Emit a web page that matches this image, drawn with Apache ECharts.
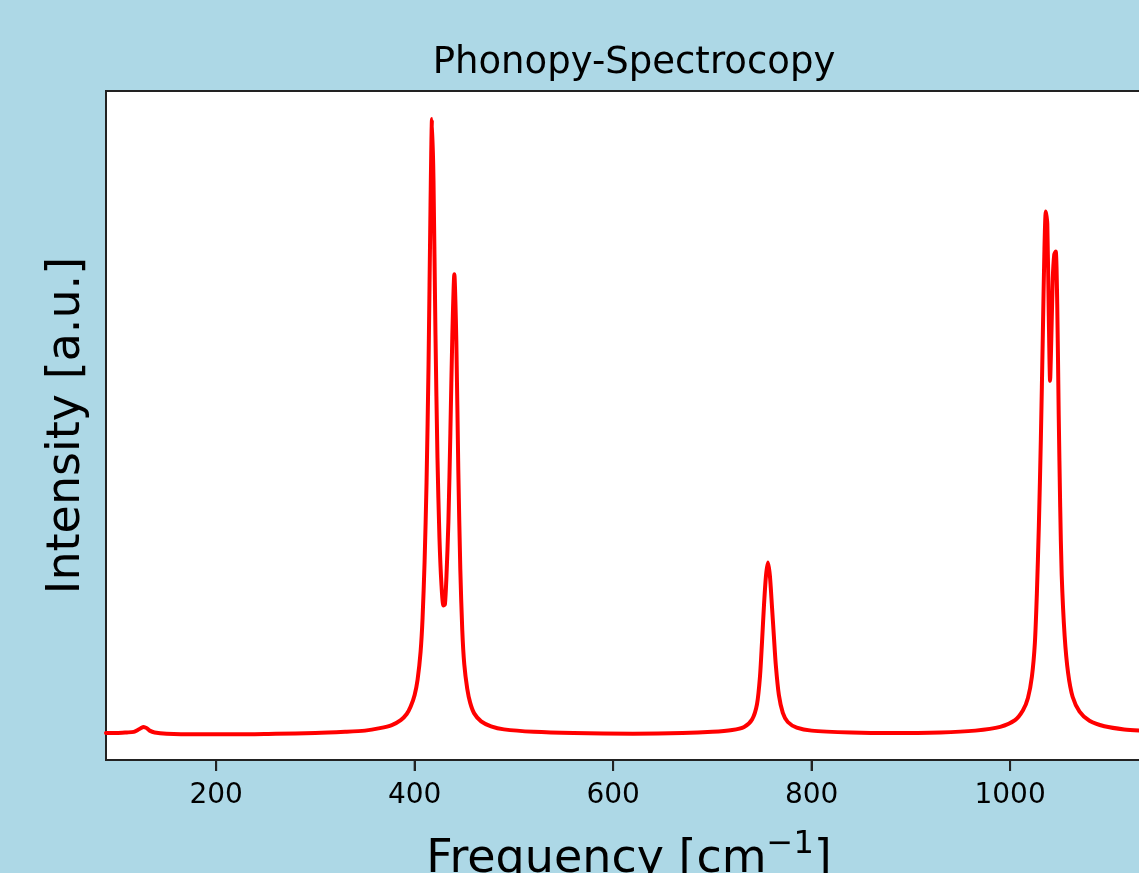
<!DOCTYPE html>
<html>
<head>
<meta charset="utf-8">
<title>Phonopy-Spectrocopy</title>
<script src="https://cdn.jsdelivr.net/npm/echarts@6/dist/echarts.min.js"></script>
<style>
    html, body { margin: 0; padding: 0; background: #add8e6; }
    #spectrum { width: 1139px; height: 873px; }
</style>
</head>
<body>
<div id="spectrum"></div>
<script>
// frequency (cm-1)
let freq = [
    89, 100, 110, 117, 121, 124, 127, 130, 133, 138, 150, 180, 220, 260, 300, 330, 350, 365, 377, 386,
    392, 396, 400, 403, 406, 408, 410, 412, 414, 416, 417.5, 419, 421, 423, 425, 427, 429, 430.5, 432, 434,
    436, 438, 440, 442, 444, 446, 448, 450, 453, 456, 460, 467, 477, 490, 520, 560, 620, 670, 700, 720,
    732, 740, 745, 748, 750, 752, 754, 756, 758, 760, 762, 764, 767, 771, 776, 785, 800, 840, 880, 930,
    965, 990, 1005, 1013, 1018, 1022, 1025, 1027, 1029, 1031, 1033, 1034.5, 1036, 1037.5, 1039, 1040.3, 1041.5, 1043, 1044.5, 1046,
    1047.5, 1049, 1050.5, 1052, 1055, 1058.5, 1063, 1070, 1080, 1095, 1115, 1143
]
// intensity (a.u.)
let intensity = [
    0.003, 0.003, 0.004, 0.005, 0.008, 0.011, 0.013, 0.011, 0.007, 0.004, 0.002, 0.001, 0.001, 0.002, 0.003, 0.005, 0.007, 0.011, 0.016, 0.024,
    0.034, 0.046, 0.065, 0.090, 0.135, 0.190, 0.280, 0.410, 0.600, 0.860, 1.000, 0.900, 0.650, 0.450, 0.320, 0.245, 0.210, 0.212, 0.255, 0.345,
    0.490, 0.650, 0.748, 0.640, 0.430, 0.270, 0.170, 0.115, 0.075, 0.052, 0.035, 0.022, 0.014, 0.009, 0.005, 0.003, 0.002, 0.003, 0.005, 0.008,
    0.013, 0.025, 0.050, 0.095, 0.150, 0.210, 0.258, 0.280, 0.258, 0.210, 0.160, 0.112, 0.065, 0.036, 0.021, 0.012, 0.007, 0.004, 0.003, 0.004,
    0.007, 0.013, 0.024, 0.040, 0.060, 0.095, 0.150, 0.230, 0.340, 0.480, 0.650, 0.780, 0.850, 0.830, 0.680, 0.575, 0.640, 0.740, 0.780, 0.785,
    0.700, 0.520, 0.370, 0.260, 0.160, 0.100, 0.062, 0.038, 0.023, 0.014, 0.009, 0.006
]
// x轴刻度
let xTicks = [200, 400, 600, 800, 1000]
// 坐标范围
let xMin = 89, xMax = 1143
let yMin = -0.0407, yMax = 1.0455

let myChart = echarts.init(document.getElementById('spectrum'))
let points = freq.map((f, i) => {
    return [f, intensity[i]]
})
// 刻度线: 画在x轴底边下面的短竖线
let tickMarks = xTicks.map((t) => {
    return [t, yMin]
})
let font = 'DejaVu Sans'
let option = {
    backgroundColor: '#add8e6',
    animation: false,
    title: {
        text: 'Phonopy-Spectrocopy',
        left: 629,
        top: 40,
        textAlign: 'center',
        textStyle: {
            fontFamily: font,
            fontSize: 37,
            fontWeight: 'normal',
            color: '#000'
        }
    },
    grid: {
        left: 106,
        top: 91,
        width: 1046,
        height: 669,
        outerBoundsMode: 'none',
        containLabel: false,
        show: true,
        backgroundColor: '#fff',
        borderColor: '#222',
        borderWidth: 2
    },
    xAxis: {
        type: 'value',
        min: xMin,
        max: xMax,
        name: 'Frequency [cm{sup|−1}]',
        nameLocation: 'middle',
        nameGap: 69,
        nameTextStyle: {
            fontFamily: font,
            fontSize: 46,
            color: '#000',
            rich: {
                sup: {
                    fontFamily: font,
                    fontSize: 32,
                    color: '#000',
                    padding: [0, 0, 30, 0]
                }
            }
        },
        axisLine: {
            show: true,
            onZero: false,
            lineStyle: { color: '#222', width: 2 }
        },
        splitLine: { show: false },
        axisTick: {
            show: true,
            length: 11,
            lineStyle: { color: '#222', width: 2 },
            customValues: xTicks
        },
        axisLabel: {
            fontFamily: font,
            fontSize: 28,
            color: '#000',
            margin: 22,
            customValues: xTicks,
            formatter: (v) => String(v)
        }
    },
    yAxis: {
        type: 'value',
        min: yMin,
        max: yMax,
        name: 'Intensity [a.u.]',
        nameLocation: 'middle',
        nameRotate: 90,
        nameGap: 16,
        nameTextStyle: {
            fontFamily: font,
            fontSize: 46,
            color: '#000'
        },
        axisLine: { show: false },
        axisTick: { show: false },
        axisLabel: { show: false },
        splitLine: { show: false }
    },
    series: [
        {
            name: 'spectrum',
            type: 'line',
            data: points,
            showSymbol: false,
            smooth: 0.25,
            lineStyle: {
                color: '#ff0000',
                width: 4,
                cap: 'round',
                join: 'round'
            }
        },
        {
            name: 'ticks',
            type: 'custom',
            data: tickMarks,
            clip: false,
            silent: true,
            z: 5,
            renderItem: (params, api) => {
                let p = api.coord([api.value(0), api.value(1)])
                return {
                    type: 'line',
                    shape: { x1: p[0], y1: p[1], x2: p[0], y2: p[1] + 11 },
                    style: { stroke: '#222', lineWidth: 2 }
                }
            }
        }
    ]
}
myChart.setOption(option)
</script>
</body>
</html>
